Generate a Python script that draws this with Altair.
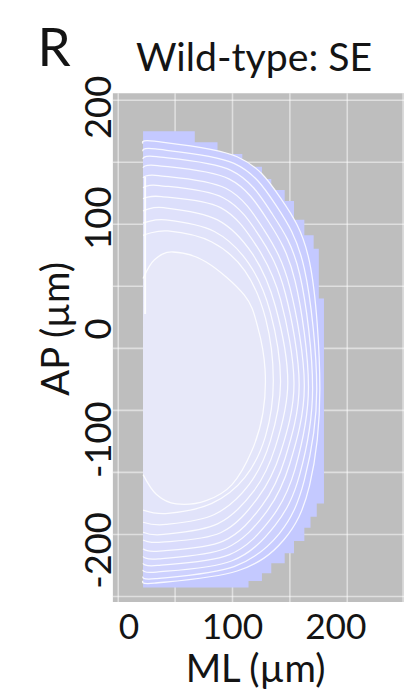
import altair as alt
import pandas as pd

# ---- text ----
panel_letter = "R"
panel_title = "Wild-type: SE"
x_title = "ML (µm)"
y_title = "AP (µm)"

# ---- axis ticks ----
ml_ticks = [0, 100, 200]
ap_ticks = [-200, -100, 0, 100, 200]

# ---- background grid positions (µm) ----
grid_ml = [-10, 45, 100.5, 156, 211.5, 265.5]
grid_ap = [206, 150, 94, 38, -18, -74, -130, -186, -242]

# ---- stepped outline of the density raster ----
boundary_ml = [14, 64, 64, 86, 86, 110, 110, 129, 129, 138, 138, 151, 151, 160, 160, 170, 170, 179, 179, 184,
               184, 189, 189, 182, 182, 176, 176, 170, 170, 160, 160, 151, 151, 138, 138, 129, 129, 116, 116, 14]
boundary_ap = [178, 178, 168, 168, 157.5, 157.5, 146, 146, 135, 135, 125, 125, 115, 115, 98, 98, 84, 84, 72, 72,
               27, 27, -158, -158, -170, -170, -180, -180, -192, -192, -203, -203, -212, -212, -221, -221, -228, -228, -234, -234]

# ---- density contours, outer -> inner ----
c01_ml = [14, 25, 105, 146, 175, 185, 175, 150, 105, 25, 14]
c01_ap = [167, 169, 155, 119, 60, -55, -142, -191, -219, -230, -228]
c02_ml = [14, 26, 102, 142, 170, 182, 170, 146, 102, 26, 14]
c02_ap = [160, 162, 149, 112, 54, -55, -137, -185, -215, -226, -224]
c03_ml = [14, 27, 99.5, 138.5, 165.5, 178, 165.5, 141.5, 99.5, 27, 14]
c03_ap = [153, 155, 142.5, 104, 49, -54, -132, -178, -210, -220, -218]
c04_ml = [14, 28, 97, 135, 161, 174, 161, 137.5, 97, 28, 14]
c04_ap = [145, 147, 135, 97, 43, -53, -127, -172, -204.5, -214, -212]
c05_ml = [14, 29, 94, 131, 156, 170, 156, 133, 94, 29, 14]
c05_ap = [136, 138, 126.5, 89, 37, -52, -122, -166, -198.5, -208, -206]
c06_ml = [14, 30, 91.5, 127.5, 151.5, 165, 151.5, 129, 91.5, 30, 14]
c06_ap = [127, 129, 118, 82, 32, -51, -117, -160, -192, -201, -199]
c07_ml = [14, 32, 89, 124, 147, 160, 147, 125, 89, 32, 14]
c07_ap = [117, 119, 109, 74, 26, -50, -112, -153, -184.5, -193, -191]
c08_ml = [14, 34, 86, 120, 142, 154, 142, 121, 86, 34, 14]
c08_ap = [106, 109, 98, 67, 20, -49, -107, -147, -176.5, -186, -184]
c09_ml = [14, 36, 83, 116, 137, 147, 137, 116.5, 83, 36, 14]
c09_ap = [95, 98, 87.5, 59, 15, -48, -102, -141, -168, -177, -175]
c10_ml = [14, 38, 80.5, 112.5, 132.5, 140, 132.5, 112.5, 80.5, 38, 14]
c10_ap = [84, 88, 78, 52, 9, -47, -97, -134.5, -158, -167, -164]
c11_ml = [14, 25, 43, 75, 112, 125, 132, 130, 119, 100, 75, 46, 27, 14]
c11_ap = [45, 62, 69, 60, 30, 1, -37, -76, -111, -141, -155.5, -158.5, -150, -132]

# white ridge along the left edge
edge_ml = [16, 16]
edge_ap = [137, 13]

levels = ["L01", "L02", "L03", "L04", "L05", "L06", "L07", "L08", "L09", "L10", "L11"]
contours = [(c01_ml, c01_ap), (c02_ml, c02_ap), (c03_ml, c03_ap), (c04_ml, c04_ap), (c05_ml, c05_ap),
            (c06_ml, c06_ap), (c07_ml, c07_ap), (c08_ml, c08_ap), (c09_ml, c09_ap), (c10_ml, c10_ap),
            (c11_ml, c11_ap)]
boundary_color = "#c4c9ff"
band_colors = ["#c9cdff", "#cdd1fe", "#d1d4fd", "#d4d7fd", "#d7dafc", "#dadcfc",
               "#dcdffb", "#dfe1fb", "#e1e3fa", "#e3e5fa", "#e7e8f9"]

rows = []
for lvl, (mls, aps) in zip(levels, contours):
    for i, (m, a) in enumerate(zip(mls, aps)):
        rows.append({"level": lvl, "idx": i, "ML": m, "AP": a})
contour_df = pd.DataFrame(rows)
boundary_df = pd.DataFrame({"ML": boundary_ml, "AP": boundary_ap, "idx": list(range(len(boundary_ml)))})
edge_df = pd.DataFrame({"ML": edge_ml, "AP": edge_ap, "idx": [0, 1]})

FONT = "Lato"
INK = "#141414"

xscale = alt.Scale(domain=[-15.2, 266.4], nice=False, zero=False)
yscale = alt.Scale(domain=[-246.9, 212.4], nice=False, zero=False)

xaxis = alt.Axis(values=ml_ticks, labelExpr="'' + datum.value", grid=False, ticks=False, tickSize=0,
                 domain=False, labelFont=FONT, labelFontSize=36, labelColor=INK, labelBaseline="alphabetic",
                 labelPadding=37, labelFlush=False, title=x_title, titleFont=FONT, titleFontSize=39,
                 titleFontWeight="normal", titleColor=INK, titleBaseline="alphabetic", titleAlign="center",
                 titleX=145, titleY=81)
yaxis = alt.Axis(values=ap_ticks, labelExpr="'' + datum.value", grid=False, ticks=False, tickSize=0,
                 domain=False, labelFont=FONT, labelFontSize=37, labelColor=INK, labelAngle=270,
                 labelAlign="center", labelBaseline="alphabetic", labelPadding=2, labelFlush=False,
                 title=y_title, titleFont=FONT, titleFontSize=39, titleFontWeight="normal", titleColor=INK,
                 titleAngle=270, titleAlign="center", titleBaseline="alphabetic", titleX=-45, titleY=240)

X = alt.X("ML:Q", scale=xscale, axis=xaxis)
Y = alt.Y("AP:Q", scale=yscale, axis=yaxis)

grid_v = alt.Chart(pd.DataFrame({"ML": grid_ml})).mark_rule(color="white", strokeWidth=1.6, opacity=0.5).encode(x=X)
grid_h = alt.Chart(pd.DataFrame({"AP": grid_ap})).mark_rule(color="white", strokeWidth=1.6, opacity=0.5).encode(y=Y)

boundary = alt.Chart(boundary_df).mark_line(interpolate="linear", strokeWidth=0).encode(
    x=X, y=Y, order="idx:Q", fill=alt.value(boundary_color))

fills = alt.Chart(contour_df).mark_line(interpolate="cardinal", strokeWidth=0).encode(
    x=X, y=Y, order="idx:Q", detail="level:N",
    fill=alt.Fill("level:N", scale=alt.Scale(domain=levels, range=band_colors), legend=None))

strokes = alt.Chart(contour_df).mark_line(interpolate="cardinal", color="white", strokeWidth=1.3, opacity=0.85).encode(
    x=X, y=Y, order="idx:Q", detail="level:N")

edge = alt.Chart(edge_df).mark_line(color="white", strokeWidth=2, opacity=0.9).encode(x=X, y=Y, order="idx:Q")

title_txt = alt.Chart(pd.DataFrame({"t": [panel_title]})).mark_text(
    font=FONT, fontSize=40, align="center", baseline="alphabetic", color=INK).encode(
    text="t:N", x=alt.value(144), y=alt.value(-23))
letter_txt = alt.Chart(pd.DataFrame({"t": [panel_letter]})).mark_text(
    font=FONT, fontSize=54, align="left", baseline="alphabetic", color=INK).encode(
    text="t:N", x=alt.value(-77), y=alt.value(-28))

chart = alt.layer(grid_v, grid_h, boundary, fills, strokes, edge, title_txt, letter_txt).properties(
    width=297, height=519, autosize="none",
    padding={"left": 107, "top": 80, "right": 0, "bottom": 82},
).configure_view(fill="#bebebe", strokeWidth=0)

chart.save("out.html", embed_options={"renderer": "svg", "actions": False})
